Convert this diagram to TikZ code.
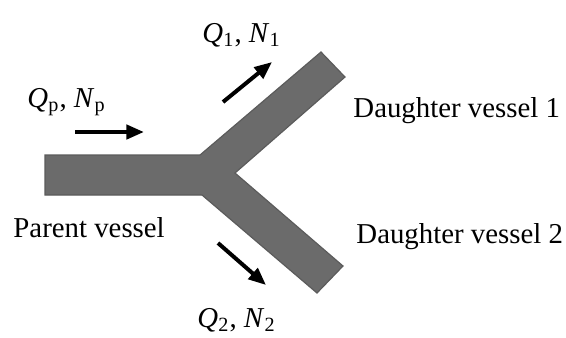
\documentclass[tikz,border=0pt]{standalone}
\usepackage{fontspec}
\setmainfont{Liberation Serif}
\definecolor{vesselgray}{gray}{0.42}
\usepackage{tikz}
\usetikzlibrary{arrows.meta}

\begin{document}
\begin{tikzpicture}[x=0.015cm, y=-0.015cm,
    font=\fontsize{12.3}{14}\selectfont,
    flow/.style={line width=1.7pt, -{Triangle[length=7.5pt, width=6pt]}},
    lbl/.style={anchor=base west, inner sep=0pt}]
  % Page
  \useasboundingbox (0,0) rectangle (566,337);

  % The bifurcating vessel
  \fill[vesselgray, draw=vesselgray!85!black, line width=0.5pt]
    (45,155) -- (200,155) -- (321,52) -- (345,77) -- (235,173)
    -- (343,266) -- (317,293) -- (202,195) -- (45,195) -- cycle;

  % Labels
  \node[lbl] (qp) at (27,107) {\textit{Q}\textsubscript{p}, \textit{N}\textsubscript{p}};
  \node[lbl] (q1) at (202,42) {\textit{Q}\textsubscript{1}, \textit{N}\textsubscript{1}};
  \node[lbl] (q2) at (197,327) {\textit{Q}\textsubscript{2}, \textit{N}\textsubscript{2}};
  \node[lbl] (parent) at (13,237) {Parent vessel};
  \node[lbl] (daughter1) at (353,117) {Daughter vessel 1};
  \node[lbl] (daughter2) at (356,243) {Daughter vessel 2};

  % Flow directions
  \coordinate (pS) at (75,132);
  \coordinate (pE) at (144,132);
  \coordinate (aS) at (223,102);
  \coordinate (aE) at (272,62);
  \coordinate (bS) at (218,243);
  \coordinate (bE) at (266,285);
  \draw[flow] (pS) -- (pE);
  \draw[flow] (aS) -- (aE);
  \draw[flow] (bS) -- (bE);

\end{tikzpicture}
\end{document}
